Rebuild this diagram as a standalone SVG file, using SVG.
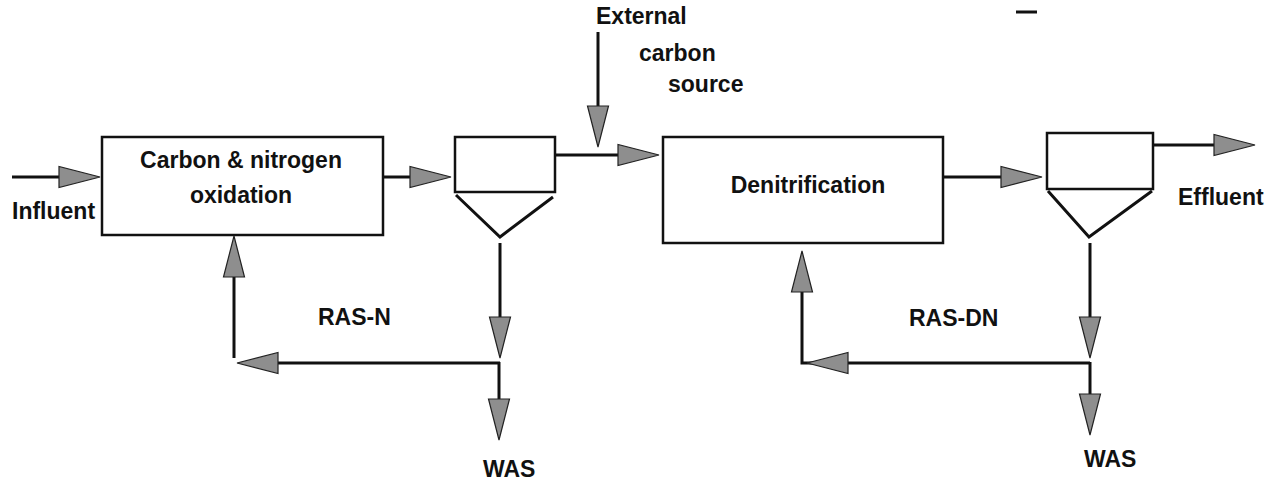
<svg xmlns="http://www.w3.org/2000/svg" xmlns:xlink="http://www.w3.org/1999/xlink" width="1278" height="484" viewBox="0 0 1278 484">
<style>
.box{fill:#fff;stroke:#111;stroke-width:2.5}
.ln{fill:none;stroke:#111;stroke-width:3}
.hd{fill:#8e8e8e;stroke:#222;stroke-width:1.2;stroke-linejoin:miter}
.t{font-family:"Liberation Sans",Arial,Helvetica,sans-serif;font-weight:bold;font-size:23px;fill:#111}
.c{text-anchor:middle}
</style>
<defs>
<path id="ah" class="hd" d="M0,0 L-41,-10.5 L-41,10.5 Z"/>
</defs>
<rect width="1278" height="484" fill="#fff"/>

<g id="node-aeration">
<rect class="box" x="102" y="137" width="281" height="98"/>
<text class="t c" x="241" y="168">Carbon &amp; nitrogen</text>
<text class="t c" x="241" y="203">oxidation</text>
</g>

<g id="node-clarifier-1">
<rect class="box" x="455" y="137" width="100" height="55"/>
<polyline class="ln" points="456,195 500,237 553,197"/>
</g>

<g id="node-denitrification">
<rect class="box" x="663" y="137" width="280" height="106"/>
<text class="t c" x="808" y="193">Denitrification</text>
</g>

<g id="node-clarifier-2">
<rect class="box" x="1047" y="133" width="106" height="56"/>
<polyline class="ln" points="1048,191 1089,237 1152,191"/>
</g>

<g id="labels">
<text class="t" x="12" y="219">Influent</text>
<text class="t" x="596" y="24">External</text>
<text class="t" x="639" y="61">carbon</text>
<text class="t" x="668" y="92">source</text>
<text class="t" x="1178" y="205">Effluent</text>
<text class="t" x="318" y="325">RAS-N</text>
<text class="t" x="909" y="326">RAS-DN</text>
<text class="t" x="483" y="477">WAS</text>
<text class="t" x="1084" y="467">WAS</text>
<line class="ln" x1="1016" y1="12" x2="1037" y2="12" stroke-width="1.5"/>
</g>

<g id="connectors">
<!-- influent -->
<line class="ln" x1="12" y1="177" x2="62" y2="177"/>
<use xlink:href="#ah" href="#ah" transform="translate(100,177)"/>
<!-- box1 to clarifier 1 -->
<line class="ln" x1="383" y1="177" x2="413" y2="177"/>
<use xlink:href="#ah" href="#ah" transform="translate(451,177)"/>
<!-- clarifier 1 to denitrification -->
<line class="ln" x1="555" y1="155" x2="621" y2="155"/>
<use xlink:href="#ah" href="#ah" transform="translate(659,155)"/>
<!-- external carbon -->
<line class="ln" x1="598" y1="32" x2="598" y2="110"/>
<use xlink:href="#ah" href="#ah" transform="translate(598,147) rotate(90)"/>
<!-- denitrification to clarifier 2 -->
<line class="ln" x1="943" y1="177" x2="1004" y2="177"/>
<use xlink:href="#ah" href="#ah" transform="translate(1042,177)"/>
<!-- effluent -->
<line class="ln" x1="1153" y1="145" x2="1217" y2="145"/>
<use xlink:href="#ah" href="#ah" transform="translate(1255,145)"/>
<!-- clarifier 1 underflow -->
<line class="ln" x1="500" y1="243" x2="500" y2="321"/>
<use xlink:href="#ah" href="#ah" transform="translate(500,358) rotate(90)"/>
<line class="ln" x1="499" y1="362" x2="499" y2="402"/>
<use xlink:href="#ah" href="#ah" transform="translate(499,440) rotate(90)"/>
<!-- RAS-N -->
<polyline class="ln" points="500,363 276,363"/>
<use xlink:href="#ah" href="#ah" transform="translate(237,363) rotate(180)"/>
<line class="ln" x1="234" y1="358" x2="234" y2="272"/>
<use xlink:href="#ah" href="#ah" transform="translate(234,236) rotate(-90)"/>
<!-- clarifier 2 underflow -->
<line class="ln" x1="1090" y1="243" x2="1090" y2="321"/>
<use xlink:href="#ah" href="#ah" transform="translate(1090,358) rotate(90)"/>
<line class="ln" x1="1090" y1="362" x2="1090" y2="397"/>
<use xlink:href="#ah" href="#ah" transform="translate(1090,435) rotate(90)"/>
<!-- RAS-DN -->
<polyline class="ln" points="1090,363 802,363 802,290"/>
<use xlink:href="#ah" href="#ah" transform="translate(807,363) rotate(180)"/>
<use xlink:href="#ah" href="#ah" transform="translate(802,251) rotate(-90)"/>
</g>
</svg>
